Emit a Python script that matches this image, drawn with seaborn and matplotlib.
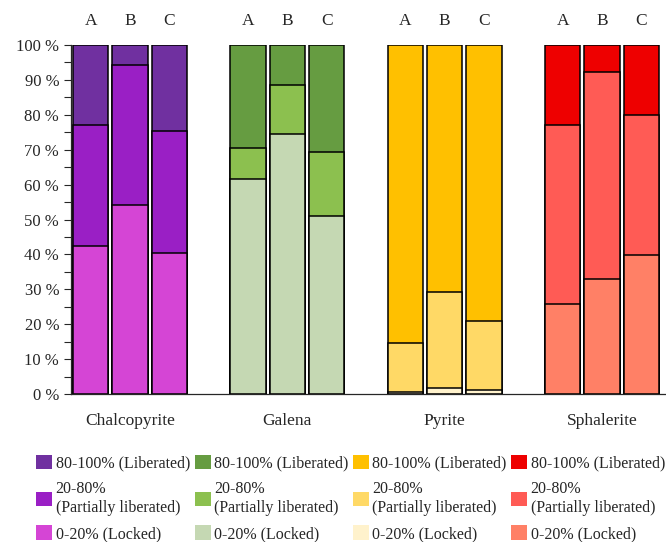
import numpy as np
import pandas as pd
import seaborn as sns
import matplotlib.pyplot as plt
from matplotlib.patches import Patch
from matplotlib.ticker import MultipleLocator, FuncFormatter

minerals = ["Chalcopyrite", "Galena", "Pyrite", "Sphalerite"]
samples = ["A", "B", "C"]

# percentages per class, samples A, B, C
locked = {
    "Chalcopyrite": [42.5, 54.3, 40.5],
    "Galena": [61.5, 74.6, 51.0],
    "Pyrite": [0.7, 1.8, 1.1],
    "Sphalerite": [25.9, 32.9, 39.9],
}
partial = {
    "Chalcopyrite": [34.7, 40.0, 34.9],
    "Galena": [9.0, 14.0, 18.3],
    "Pyrite": [13.8, 27.5, 19.8],
    "Sphalerite": [51.3, 59.4, 39.9],
}
liberated = {
    "Chalcopyrite": [22.8, 5.7, 24.6],
    "Galena": [29.5, 11.4, 30.7],
    "Pyrite": [85.5, 70.7, 79.1],
    "Sphalerite": [22.8, 7.7, 20.2],
}

class_labels = ["80-100% (Liberated)", "20-80%\n(Partially liberated)", "0-20% (Locked)"]

# colours: liberated, partial, locked
colors = {
    "Chalcopyrite": ["#7030A0", "#9A1FC5", "#D545D5"],
    "Galena": ["#669C41", "#8CC04F", "#C5D8B3"],
    "Pyrite": ["#FFC000", "#FFD966", "#FFF2CC"],
    "Sphalerite": ["#EE0000", "#FF5B55", "#FF8066"],
}

rows = []
for m in minerals:
    for i, s in enumerate(samples):
        rows.append({"mineral": m, "sample": s,
                     "locked": locked[m][i],
                     "partial": partial[m][i],
                     "liberated": liberated[m][i]})
df = pd.DataFrame(rows)
df["top_locked"] = df["locked"]
df["top_partial"] = df["locked"] + df["partial"]
df["top_liberated"] = df["top_partial"] + df["liberated"]

sns.set_style("ticks")
plt.rcParams["font.family"] = ["Liberation Serif", "DejaVu Serif"]

fig = plt.figure(figsize=(6.66, 5.42), dpi=100)
ax = fig.add_axes([0.1066, 0.273, 0.892, 0.644])

# draw from the tallest layer down so lower layers sit on top
for layer, col in enumerate(["top_liberated", "top_partial", "top_locked"]):
    n_before = len(ax.containers)
    sns.barplot(data=df, x="mineral", y=col, hue="sample", order=minerals,
                hue_order=samples, width=0.75, gap=0.1, errorbar=None,
                legend=False, ax=ax, edgecolor="black", linewidth=1.1,
                saturation=1)
    for cont in ax.containers[n_before:]:
        for j, bar in enumerate(cont):
            bar.set_facecolor(colors[minerals[j]][layer])

# sample labels above bars
for cont, s in zip(ax.containers[:3], samples):
    for bar in cont:
        ax.text(bar.get_x() + bar.get_width() / 2, 104.5, s,
                ha="center", va="bottom", fontsize=12.5, clip_on=False)

ax.set_xlim(-0.375, 3.4)
ax.set_ylim(0, 100)
ax.yaxis.set_major_locator(MultipleLocator(10))
ax.yaxis.set_minor_locator(MultipleLocator(5))
ax.yaxis.set_major_formatter(FuncFormatter(lambda v, p: f"{int(v)} %"))
ax.tick_params(axis="y", which="both", length=5, width=0.8, labelsize=12)
ax.tick_params(axis="x", length=0, labelsize=12.5, pad=14)
ax.set_xlabel("")
ax.set_ylabel("")
sns.despine(ax=ax)
for sp in ["left", "bottom"]:
    ax.spines[sp].set_linewidth(0.9)

handles, labels = [], []
for m in minerals:
    for k in range(3):
        handles.append(Patch(facecolor=colors[m][k], edgecolor="none"))
        labels.append(class_labels[k])

fig.legend(handles, labels, ncol=4, loc="upper left",
           bbox_to_anchor=(0.045, 0.172), frameon=False, fontsize=11.5,
           handlelength=1.0, handleheight=1.0, handletextpad=0.2,
           columnspacing=0.3, labelspacing=0.6, borderaxespad=0)

fig.savefig("out.png", dpi=100)
